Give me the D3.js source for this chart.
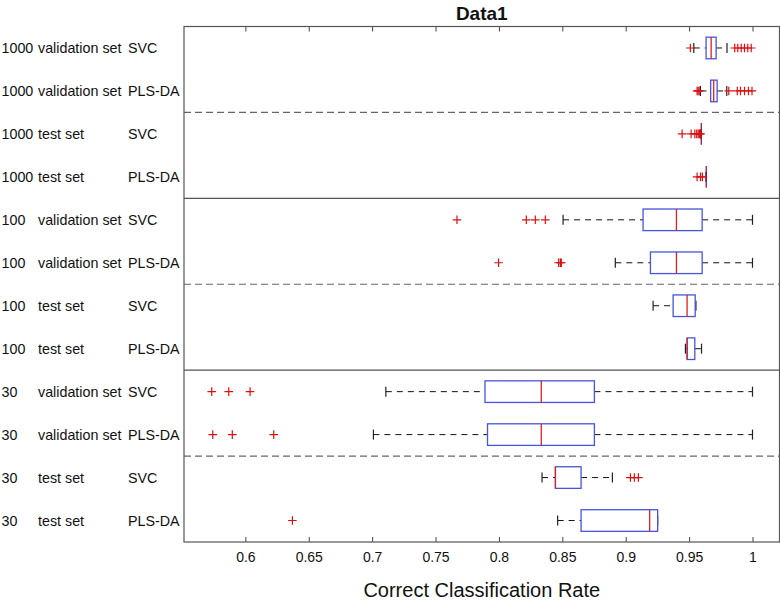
<!DOCTYPE html>
<html><head><meta charset="utf-8">
<script src="https://cdn.jsdelivr.net/npm/d3@7"></script>
<style>body{margin:0;background:#fff}svg{display:block}text{font-family:"Liberation Sans",Arial,sans-serif}</style>
</head><body>
<svg id="c" width="780" height="602"></svg>
<script>
// ---- data ----
const sizes   = ["1000","1000","1000","1000","100","100","100","100","30","30","30","30"];
const sets    = ["validation set","validation set","test set","test set","validation set","validation set","test set","test set","validation set","validation set","test set","test set"];
const methods = ["SVC","PLS-DA","SVC","PLS-DA","SVC","PLS-DA","SVC","PLS-DA","SVC","PLS-DA","SVC","PLS-DA"];
const whiskerLo = [0.9537,0.9589,0.9596,0.9635,0.8506,0.8918,0.9216,0.9471,0.7108,0.7010,0.8340,0.8463];
const q1        = [0.9634,0.9670,0.9596,0.9635,0.9137,0.9195,0.9374,0.9484,0.7890,0.7910,0.8445,0.8648];
const medians   = [0.9674,0.9694,0.9596,0.9635,0.9400,0.9400,0.9484,0.9485,0.8334,0.8334,0.8446,0.9189];
const q3        = [0.9713,0.9721,0.9596,0.9635,0.9603,0.9603,0.9548,0.9545,0.8753,0.8753,0.8648,0.9252];
const whiskerHi = [0.9799,0.9797,0.9596,0.9635,1.0000,1.0000,0.9554,0.9598,1.0000,1.0000,0.8895,0.9252];
const outliers  = [
  [0.9510,0.9860,0.9884,0.9911,0.9937,0.9963,0.9990],
  [0.9563,0.9571,0.9579,0.9813,0.9880,0.9905,0.9937,0.9968,0.9996],
  [0.9445,0.9516,0.9545,0.9560,0.9572,0.9582,0.9590],
  [0.9563,0.9590,0.9605],
  [0.7669,0.8216,0.8287,0.8366],
  [0.7997,0.8471,0.8485,0.8492],
  [],
  [],
  [0.5735,0.5869,0.6037],
  [0.5743,0.5897,0.6224],
  [0.9037,0.9068,0.9100],
  [0.6371]
];
const xTicks = [0.6,0.65,0.7,0.75,0.8,0.85,0.9,0.95,1];
const xTickLabels = ["0.6","0.65","0.7","0.75","0.8","0.85","0.9","0.95","1"];
const solidAfter = [4,8];
const dashedAfter = [2,6,10];

// ---- layout ----
const L=184, R=779.5, T=26.5, B=542;
const svg = d3.select("#c");
const x = d3.scaleLinear().domain([0.5516,1.0213]).range([L,R]);
const rows = d3.range(1,13);
const y = d3.scaleLinear().domain([0.5,12.5]).range([T,B]);

// separators
svg.selectAll(".sep").data(solidAfter).join("line")
  .attr("x1",L).attr("x2",R).attr("y1",d=>y(d+0.5)).attr("y2",d=>y(d+0.5))
  .attr("stroke","#555").attr("stroke-width",1.2);
svg.selectAll(".dsep").data(dashedAfter).join("line")
  .attr("x1",L).attr("x2",R).attr("y1",d=>y(d+0.5)).attr("y2",d=>y(d+0.5))
  .attr("stroke","#666").attr("stroke-width",1.2).attr("stroke-dasharray","7,4");

// axes ticks
const axB = d3.axisBottom(x).tickValues(xTicks).tickFormat((d,i)=>xTickLabels[i]).tickSizeInner(-5).tickSizeOuter(0).tickPadding(10);
const gB = svg.append("g").attr("transform",`translate(0,${B})`).call(axB);
gB.select(".domain").remove();
gB.selectAll("line").attr("stroke","#444");
gB.selectAll("text").attr("font-size","14px").attr("fill","#111").attr("font-family","Liberation Sans, Arial, sans-serif");
const axT = d3.axisTop(x).tickValues(xTicks).tickFormat("").tickSizeInner(-5).tickSizeOuter(0);
const gT = svg.append("g").attr("transform",`translate(0,${T})`).call(axT);
gT.select(".domain").remove();
gT.selectAll("line").attr("stroke","#444");

// frame
svg.append("rect").attr("x",L).attr("y",T).attr("width",R-L).attr("height",B-T)
  .attr("fill","none").attr("stroke","#555").attr("stroke-width",1.2);

const bh = 10.8, ch = 5;
const g = svg.append("g");
rows.forEach((r,i)=>{
  const cy = y(r);
  // whiskers
  if (whiskerLo[i] < q1[i]) g.append("line").attr("x1",x(whiskerLo[i])).attr("x2",x(q1[i])).attr("y1",cy).attr("y2",cy)
    .attr("stroke","#111").attr("stroke-dasharray","6,5");
  if (whiskerHi[i] > q3[i]) g.append("line").attr("x1",x(q3[i])).attr("x2",x(whiskerHi[i])).attr("y1",cy).attr("y2",cy)
    .attr("stroke","#111").attr("stroke-dasharray","6,5");
  [whiskerLo[i], whiskerHi[i]].forEach(v=>{
    g.append("line").attr("x1",x(v)).attr("x2",x(v)).attr("y1",cy-ch).attr("y2",cy+ch).attr("stroke","#222").attr("stroke-width",1.2);
  });
  // box
  g.append("rect").attr("x",x(q1[i])).attr("y",cy-bh).attr("width",Math.max(0,x(q3[i])-x(q1[i]))).attr("height",2*bh)
    .attr("fill","none").attr("stroke","#4555dd").attr("stroke-width",1.3);
  // median
  g.append("line").attr("x1",x(medians[i])).attr("x2",x(medians[i])).attr("y1",cy-bh).attr("y2",cy+bh)
    .attr("stroke",(q1[i]===q3[i])?"#8a1a5a":"#e02020").attr("stroke-width",1.3);
  // outliers
  outliers[i].forEach(v=>{
    const px = x(v);
    g.append("path").attr("d",`M${px-4.3},${cy}H${px+4.3}M${px},${cy-4.3}V${cy+4.3}`)
      .attr("stroke","#e01010").attr("stroke-width",1.2).attr("fill","none");
  });
});

// y labels
const lab = svg.append("g").attr("font-size","14.3px").attr("fill","#111");
rows.forEach((r,i)=>{
  const cy = y(r)+5;
  lab.append("text").attr("x",1.5).attr("y",cy).text(sizes[i]);
  lab.append("text").attr("x",38).attr("y",cy).text(sets[i]);
  lab.append("text").attr("x",128).attr("y",cy).text(methods[i]);
});

// title & axis label
svg.append("text").attr("x",(L+R)/2).attr("y",20).attr("text-anchor","middle")
  .attr("font-size","19px").attr("font-weight","bold").attr("fill","#111").text("Data1");
svg.append("text").attr("x",(L+R)/2).attr("y",597).attr("text-anchor","middle")
  .attr("font-size","20px").attr("fill","#111").text("Correct Classification Rate");
</script>
</body></html>
